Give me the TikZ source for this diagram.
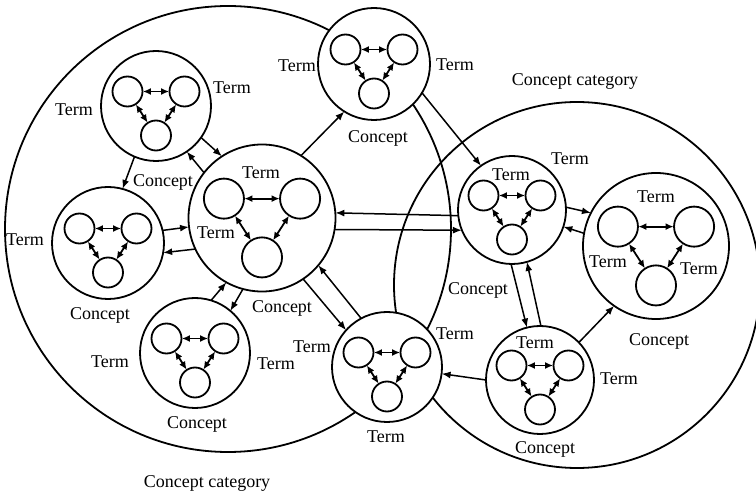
\documentclass[tikz,border=0pt]{standalone}
\usepackage{fontspec}
\setmainfont{Liberation Serif}
\usetikzlibrary{arrows.meta,calc}
\tikzset{
  concept/.style={circle, draw, line width=1.8pt, fill=white, inner sep=0pt, outer sep=0pt},
  sm/.style={circle, draw, line width=1.8pt, fill=white, inner sep=0pt, outer sep=0pt, minimum size=#1},
  inarr/.style={{Latex[length=8pt,width=7pt]}-{Latex[length=8pt,width=7pt]}, line width=1.8pt, shorten <=0.4pt, shorten >=0.4pt},
  conn/.style={-{Latex[length=9pt,width=7pt]}, line width=1.5pt},
  lbl/.style={font=\fontsize{18}{20}\selectfont, inner sep=0pt, anchor=base, yshift=-6pt}
}
\newcommand{\triad}[4]{% name, x, y, scale
  \node[sm={#4*30pt}] (#1a) at ({#2-28.5*#4},{#3-14.5*#4}) {};
  \node[sm={#4*30pt}] (#1b) at ({#2+28.5*#4},{#3-14.5*#4}) {};
  \node[sm={#4*30pt}] (#1c) at ({#2},{#3+29.5*#4}) {};
  \draw[inarr] (#1a) -- (#1b);
  \draw[inarr] (#1a) -- (#1c);
  \draw[inarr] (#1b) -- (#1c);
}
\begin{document}
\begin{tikzpicture}[x=1pt,y=-1pt]
\useasboundingbox (0,0) rectangle (756,494);
% concept categories
\node[circle, draw, line width=1.8pt, inner sep=0pt, minimum size=446pt] (catL) at (228,229) {};
\node[circle, draw, line width=1.8pt, inner sep=0pt, minimum size=366pt] (catR) at (577,285) {};
% concepts
\node[concept, minimum size=110pt] (c1) at (156,106) {};
\node[concept, minimum size=112pt] (c2) at (374,64) {};
\node[concept, minimum size=147pt] (cc) at (262,218) {};
\node[concept, minimum size=112pt] (c4) at (108,243) {};
\node[concept, minimum size=110pt] (c5) at (195,353) {};
\node[concept, minimum size=110pt] (c6) at (387,367) {};
\node[concept, minimum size=108pt] (c7) at (512,210) {};
\node[concept, minimum size=146pt] (c8) at (656,246) {};
\node[concept, minimum size=108pt] (c9) at (540,380) {};
% terms inside concepts
\triad{t1}{156}{106}{1}
\triad{t2}{374}{64}{1}
\triad{tc}{262}{218}{1.336}
\triad{t4}{108}{243}{1}
\triad{t5}{195}{353}{1}
\triad{t6}{387}{367}{1}
\triad{t7}{512}{210}{1}
\triad{t8}{656}{246}{1.336}
\triad{t9}{540}{380}{1}
% connectors between concepts
\draw[conn] (c1.-113) -- (c4.75);
\draw[conn] (c1.-35) -- (cc.123);
\draw[conn] (cc.142) -- (c1.-56);
\draw[conn] (c4.13) -- (cc.187);
\draw[conn] (cc.205) -- (c4.-10);
\draw[conn] (cc.58) -- (c2.-122);
\draw[conn] (c2.-31) -- (c7.125);
\draw[conn] (c7.186) -- (cc.4);
\draw[conn] (cc.-9) -- (c7.202);
\draw[conn] (c7.3) -- (c8.153);
\draw[conn] (c8.170) -- (c7.-18);
\draw[conn] (c7.-91) -- (c9.104);
\draw[conn] (c9.89) -- (c7.-74);
\draw[conn] (c9.44) -- (c8.-125);
\draw[conn] (c9.180) -- (c6.-7);
\draw[conn] (cc.-56) -- (c6.138);
\draw[conn] (c6.118) -- (cc.-40);
\draw[conn] (c5.73) -- (cc.-119);
\draw[conn] (cc.-105) -- (c5.50);
% labels
\node[lbl] (l1) at (74,110) {Term};
\node[lbl] (l2) at (232,88) {Term};
\node[lbl] (l3) at (163,181) {Concept};
\node[lbl] (l4) at (297,66) {Term};
\node[lbl] (l5) at (455,65) {Term};
\node[lbl] (l6) at (378,137) {Concept};
\node[lbl] (l7) at (575,80) {Concept category};
\node[lbl] (l8) at (25,240) {Term};
\node[lbl] (l9) at (100,314) {Concept};
\node[lbl] (l10) at (261,173) {Term};
\node[lbl] (l11) at (216,233) {Term};
\node[lbl] (l12) at (282,307) {Concept};
\node[lbl] (l13) at (110,362) {Term};
\node[lbl] (l14) at (276,364) {Term};
\node[lbl] (l15) at (197,423) {Concept};
\node[lbl] (l16) at (312,347) {Term};
\node[lbl] (l17) at (455,334) {Term};
\node[lbl] (l18) at (386,437) {Term};
\node[lbl] (l19) at (511,175) {Term};
\node[lbl] (l20) at (570,159) {Term};
\node[lbl] (l21) at (478,289) {Concept};
\node[lbl] (l22) at (656,197) {Term};
\node[lbl] (l23) at (608,262) {Term};
\node[lbl] (l24) at (699,269) {Term};
\node[lbl] (l25) at (659,340) {Concept};
\node[lbl] (l26) at (535,343) {Term};
\node[lbl] (l27) at (619,379) {Term};
\node[lbl] (l28) at (545,448) {Concept};
\node[lbl] (l29) at (207,482) {Concept category};
\end{tikzpicture}
\end{document}
